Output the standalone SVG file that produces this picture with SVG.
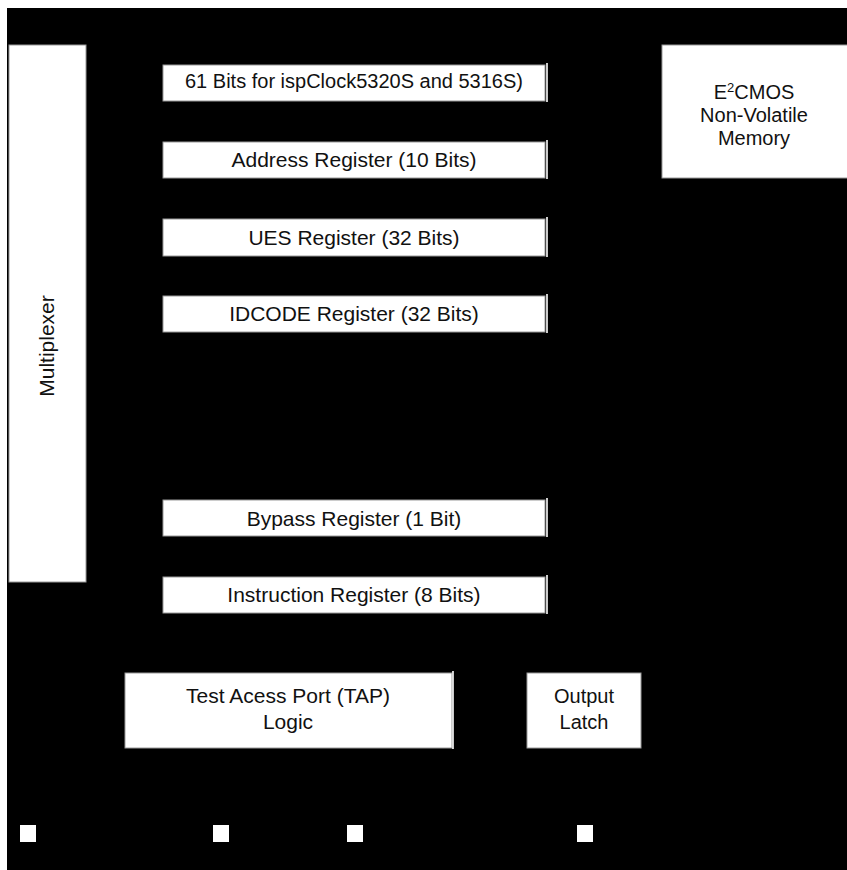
<svg xmlns="http://www.w3.org/2000/svg" width="847" height="870" viewBox="0 0 847 870">
<style>
.bx{fill:#fff;stroke:#999;stroke-width:1}
.t{font-family:"Liberation Sans",Arial,sans-serif;font-size:21px;fill:#111;text-anchor:middle}
.s{font-size:20px}
.wl{stroke:#fff;stroke-width:1.6}
.pin{fill:#fff}
</style>
<rect x="0" y="0" width="847" height="870" fill="#fff"/>
<rect x="7" y="8" width="840" height="862" fill="#000"/>
<g id="mux"><rect class="bx" x="9" y="45" width="77" height="537"/><text class="t" transform="translate(54,346) rotate(-90)">Multiplexer</text></g>
<g id="boundary"><rect class="bx" x="163" y="65" width="382" height="36"/><text class="t s" x="354" y="88">61 Bits for ispClock5320S and 5316S)</text></g>
<g id="address"><rect class="bx" x="163" y="142" width="382" height="36"/><text class="t" x="354" y="167">Address Register (10 Bits)</text></g>
<g id="ues"><rect class="bx" x="163" y="219" width="382" height="37"/><text class="t" x="354" y="245">UES Register (32 Bits)</text></g>
<g id="idcode"><rect class="bx" x="163" y="296" width="382" height="36"/><text class="t" x="354" y="321">IDCODE Register (32 Bits)</text></g>
<g id="bypass"><rect class="bx" x="163" y="500" width="382" height="36"/><text class="t" x="354" y="526">Bypass Register (1 Bit)</text></g>
<g id="instr"><rect class="bx" x="163" y="577" width="382" height="36"/><text class="t" x="354" y="602">Instruction Register (8 Bits)</text></g>
<g id="eecmos"><rect class="bx" x="662" y="45" width="190" height="133"/><text class="t s" x="754" y="99">E<tspan font-size="13" dy="-7">2</tspan><tspan dy="7">CMOS</tspan></text><text class="t s" x="754" y="122">Non-Volatile</text><text class="t s" x="754" y="145">Memory</text></g>
<g id="tap"><rect class="bx" x="125" y="673" width="327" height="75"/><text class="t" x="288" y="703">Test Acess Port (TAP)</text><text class="t" x="288" y="729">Logic</text></g>
<g id="latch"><rect class="bx" x="527" y="673" width="114" height="75"/><text class="t s" x="584" y="703">Output</text><text class="t s" x="584" y="729">Latch</text></g>
<g id="pins"><rect class="pin" x="20" y="825" width="16" height="17"/><rect class="pin" x="213" y="825" width="16" height="17"/><rect class="pin" x="347" y="825" width="16" height="17"/><rect class="pin" x="577" y="825" width="16" height="17"/></g>
<g id="connectors">
<line class="wl" x1="547" y1="63" x2="547" y2="102"/>
<line class="wl" x1="547" y1="140" x2="547" y2="179"/>
<line class="wl" x1="547" y1="217" x2="547" y2="257"/>
<line class="wl" x1="547" y1="294" x2="547" y2="333"/>
<line class="wl" x1="547" y1="498" x2="547" y2="537"/>
<line class="wl" x1="547" y1="575" x2="547" y2="614"/>
<line class="wl" x1="453" y1="671" x2="453" y2="749"/>
</g>
</svg>
